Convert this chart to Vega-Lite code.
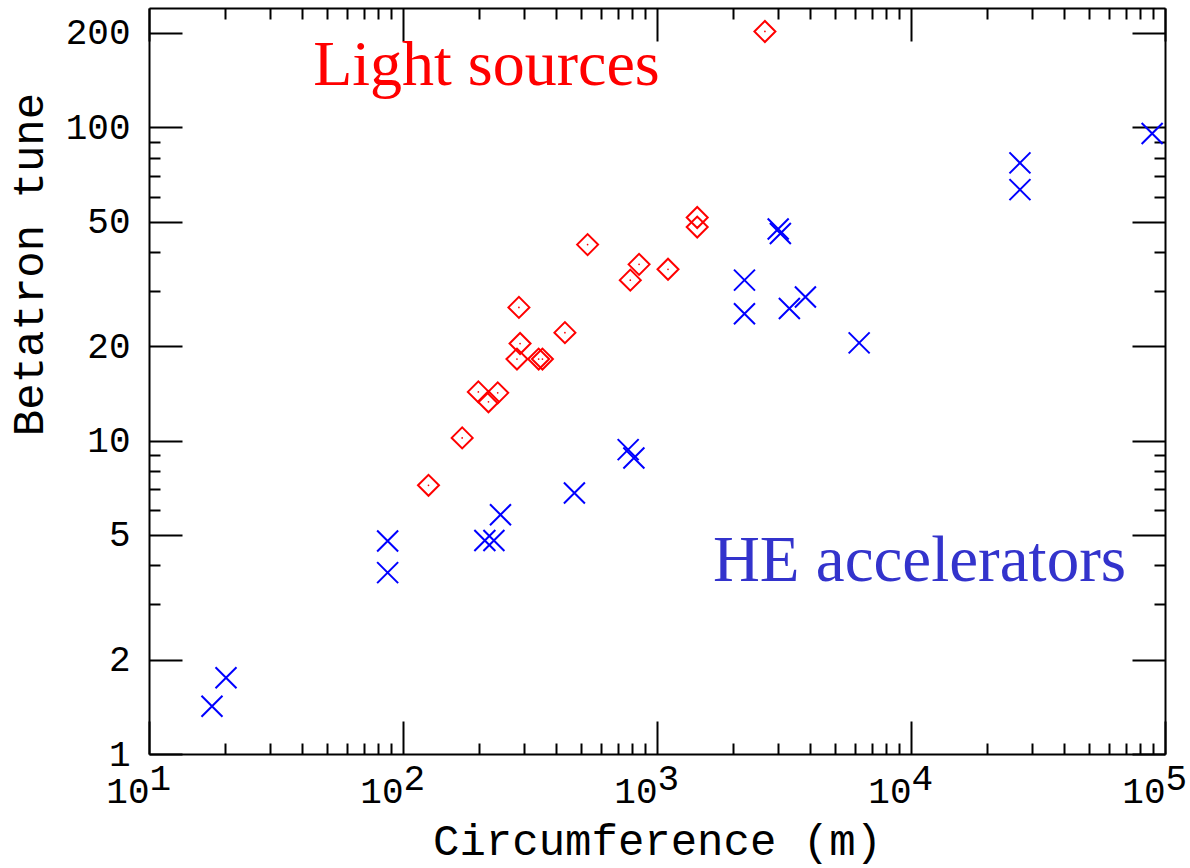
{
  "$schema": "https://vega.github.io/schema/vega-lite/v6.json",
  "width": 1016,
  "height": 746,
  "autosize": "none",
  "padding": {"left": 149, "top": 8, "right": 25, "bottom": 114},
  "background": "white",
  "config": {
    "view": {"stroke": null},
    "axis": {
      "grid": false,
      "labelFont": "Liberation Mono",
      "titleFont": "Liberation Mono",
      "labelFontSize": 36,
      "titleFontSize": 44,
      "titleFontWeight": "normal",
      "labelColor": "black",
      "titleColor": "black",
      "domainColor": "black",
      "tickColor": "black",
      "domainWidth": 2,
      "tickWidth": 2,
      "labelFlush": false,
      "labelOverlap": false,
      "labelBound": false
    }
  },
  "datasets": {
    "light": [
      {"circumference": 2660, "tune": 202},
      {"circumference": 1440, "tune": 51.5},
      {"circumference": 1440, "tune": 48},
      {"circumference": 850, "tune": 36.5},
      {"circumference": 785, "tune": 32.5},
      {"circumference": 1105, "tune": 35.2},
      {"circumference": 533, "tune": 42.2},
      {"circumference": 286, "tune": 26.6},
      {"circumference": 434, "tune": 22.1},
      {"circumference": 289, "tune": 20.4},
      {"circumference": 281, "tune": 18.2},
      {"circumference": 342, "tune": 18.2},
      {"circumference": 354, "tune": 18.2},
      {"circumference": 198, "tune": 14.3},
      {"circumference": 236, "tune": 14.2},
      {"circumference": 217, "tune": 13.3},
      {"circumference": 171, "tune": 10.2},
      {"circumference": 126, "tune": 7.2}
    ],
    "he": [
      {"circumference": 89000, "tune": 95.5},
      {"circumference": 26850, "tune": 76.9},
      {"circumference": 26850, "tune": 63.2},
      {"circumference": 3000, "tune": 47.3},
      {"circumference": 3060, "tune": 45.8},
      {"circumference": 2210, "tune": 32.5},
      {"circumference": 2210, "tune": 25.4},
      {"circumference": 3320, "tune": 26.4},
      {"circumference": 3840, "tune": 28.7},
      {"circumference": 6250, "tune": 20.5},
      {"circumference": 17.7, "tune": 1.42},
      {"circumference": 20.1, "tune": 1.75},
      {"circumference": 87, "tune": 4.78},
      {"circumference": 87, "tune": 3.79},
      {"circumference": 210, "tune": 4.8},
      {"circumference": 228, "tune": 4.8},
      {"circumference": 242, "tune": 5.8},
      {"circumference": 473, "tune": 6.8},
      {"circumference": 770, "tune": 9.36},
      {"circumference": 811, "tune": 8.8}
    ],
    "notes": [
      {"label": "Light sources", "circumference": 44.3, "tune": 136},
      {"label": "HE accelerators", "circumference": 1660, "tune": 3.56}
    ]
  },
  "layer": [
    {
      "data": {"name": "light"},
      "mark": {"type": "point", "shape": "diamond", "filled": false, "color": "#ff0000", "strokeWidth": 2, "size": 441, "opacity": 1},
      "encoding": {
        "x": {"field": "circumference", "type": "quantitative",
          "scale": {"type": "log", "domain": [10, 100000], "nice": false},
          "axis": {"orient": "bottom", "values": [10, 100, 1000, 10000, 100000], "tickSize": -33, "labelExpr": "'10'", "labelAlign": "right", "labelBaseline": "alphabetic", "labelPadding": 81, "title": "Circumference (m)", "titleY": 100, "titleBaseline": "alphabetic"}},
        "y": {"field": "tune", "type": "quantitative",
          "scale": {"type": "log", "domain": [1, 240], "nice": false},
          "axis": {"orient": "left", "values": [1, 2, 5, 10, 20, 50, 100, 200], "tickSize": -33, "labelPadding": 52, "labelAlign": "right", "labelBaseline": "middle", "labelExpr": "'' + datum.value", "title": "Betatron tune", "titleX": -107, "titleY": 256, "titleAngle": -90, "titleBaseline": "alphabetic", "titleAlign": "center"}}
      }
    },
    {
      "data": {"name": "he"},
      "mark": {"type": "point", "shape": "M-1,-1L1,1M-1,1L1,-1", "filled": false, "color": "#0000ff", "strokeWidth": 2, "size": 441, "opacity": 1},
      "encoding": {
        "x": {"field": "circumference", "type": "quantitative",
          "scale": {"type": "log", "domain": [10, 100000], "nice": false},
          "axis": {"orient": "bottom", "values": [20, 30, 40, 50, 60, 70, 80, 90, 200, 300, 400, 500, 600, 700, 800, 900, 2000, 3000, 4000, 5000, 6000, 7000, 8000, 9000, 20000, 30000, 40000, 50000, 60000, 70000, 80000, 90000], "tickSize": -11, "labels": false, "domain": false, "title": null}},
        "y": {"field": "tune", "type": "quantitative",
          "scale": {"type": "log", "domain": [1, 240], "nice": false},
          "axis": {"orient": "left", "values": [3, 4, 6, 7, 8, 9, 30, 40, 60, 70, 80, 90], "tickSize": -11, "labels": false, "domain": false, "title": null}}
      }
    },
    {
      "data": {"name": "light"},
      "mark": {"type": "point", "shape": "circle", "filled": true, "color": "#ff0000", "size": 3, "opacity": 1},
      "encoding": {
        "x": {"field": "circumference", "type": "quantitative",
          "scale": {"type": "log", "domain": [10, 100000], "nice": false},
          "axis": {"orient": "top", "values": [10, 100, 1000, 10000, 100000], "tickSize": -33, "labels": false, "title": null}},
        "y": {"field": "tune", "type": "quantitative",
          "scale": {"type": "log", "domain": [1, 240], "nice": false},
          "axis": {"orient": "right", "values": [1, 2, 5, 10, 20, 50, 100, 200], "tickSize": -33, "labels": false, "title": null}}
      }
    },
    {
      "data": {"name": "notes"},
      "transform": [{"filter": "datum.label == 'Light sources'"}],
      "mark": {"type": "text", "font": "Liberation Serif", "fontSize": 64, "color": "#ff0000", "align": "left", "baseline": "alphabetic"},
      "encoding": {
        "text": {"field": "label"},
        "x": {"field": "circumference", "type": "quantitative",
          "scale": {"type": "log", "domain": [10, 100000], "nice": false},
          "axis": {"orient": "top", "values": [20, 30, 40, 50, 60, 70, 80, 90, 200, 300, 400, 500, 600, 700, 800, 900, 2000, 3000, 4000, 5000, 6000, 7000, 8000, 9000, 20000, 30000, 40000, 50000, 60000, 70000, 80000, 90000], "tickSize": -11, "labels": false, "domain": false, "title": null}},
        "y": {"field": "tune", "type": "quantitative",
          "scale": {"type": "log", "domain": [1, 240], "nice": false},
          "axis": {"orient": "right", "values": [3, 4, 6, 7, 8, 9, 30, 40, 60, 70, 80, 90], "tickSize": -11, "labels": false, "domain": false, "title": null}}
      }
    },
    {
      "data": {"name": "notes"},
      "transform": [{"filter": "datum.label == 'HE accelerators'"}],
      "mark": {"type": "text", "font": "Liberation Serif", "fontSize": 65, "color": "#3333cc", "align": "left", "baseline": "alphabetic"},
      "encoding": {
        "text": {"field": "label"},
        "x": {"field": "circumference", "type": "quantitative",
          "scale": {"type": "log", "domain": [10, 100000], "nice": false},
          "axis": {"orient": "bottom", "values": [10, 100, 1000, 10000, 100000], "ticks": false, "tickSize": 0, "domain": false, "labelExpr": "'' + round(log(datum.value) / LN10)", "labelAlign": "left", "labelBaseline": "alphabetic", "labelPadding": 35, "labelDx": 2, "title": null}},
        "y": {"field": "tune", "type": "quantitative",
          "scale": {"type": "log", "domain": [1, 240], "nice": false},
          "axis": null}
      }
    }
  ],
  "resolve": {"axis": {"x": "independent", "y": "independent"}}
}
